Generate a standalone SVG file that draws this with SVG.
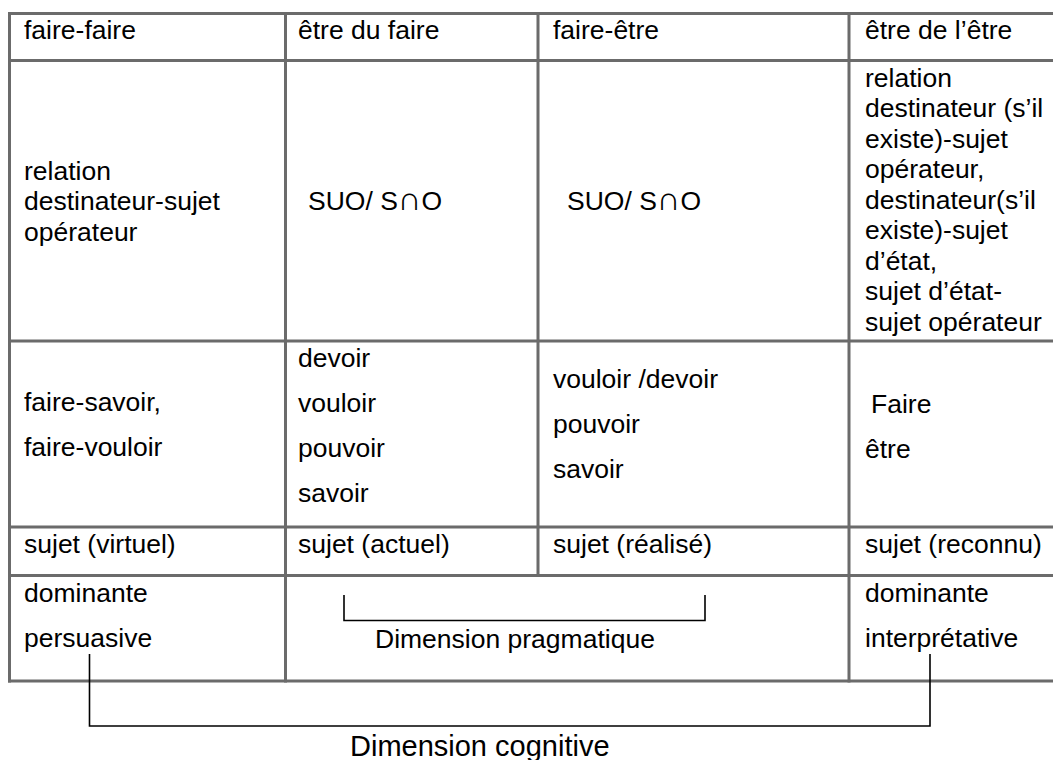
<svg xmlns="http://www.w3.org/2000/svg" width="1053" height="760" viewBox="0 0 1053 760">
<style>
.g{stroke:#6b6b6b;stroke-width:3;fill:none}
.b{stroke:#000;stroke-width:1.6;fill:none}
text{font-family:"Liberation Sans",Arial,sans-serif;font-size:26.5px;fill:#000}
.big{font-size:29px}
.cap{font-size:33px}
</style>
<rect width="1053" height="760" fill="#fff"/>
<g id="grid">
<line class="g" x1="8" y1="13.5" x2="1053" y2="13.5"/>
<line class="g" x1="8" y1="60.5" x2="1053" y2="60.5"/>
<line class="g" x1="8" y1="341" x2="1053" y2="341"/>
<line class="g" x1="8" y1="527" x2="1053" y2="527"/>
<line class="g" x1="8" y1="575.5" x2="1053" y2="575.5"/>
<line class="g" x1="8" y1="681" x2="1053" y2="681"/>
<line class="g" x1="9.5" y1="12" x2="9.5" y2="682.5"/>
<line class="g" x1="285.5" y1="12" x2="285.5" y2="682.5"/>
<line class="g" x1="538" y1="12" x2="538" y2="577"/>
<line class="g" x1="849" y1="12" x2="849" y2="682.5"/>
</g>
<g id="h1"><text x="24" y="39">faire-faire</text></g>
<g id="h2"><text x="298" y="39">être du faire</text></g>
<g id="h3"><text x="553" y="39">faire-être</text></g>
<g id="h4"><text x="865" y="39">être de l’être</text></g>
<g id="r2c1"><text x="24" y="179.5">relation</text><text x="24" y="210">destinateur-sujet</text><text x="24" y="240.5">opérateur</text></g>
<g id="r2c2"><text x="308" y="210">SUO/ S<tspan class="cap">∩</tspan>O</text></g>
<g id="r2c3"><text x="567" y="210">SUO/ S<tspan class="cap">∩</tspan>O</text></g>
<g id="r2c4">
<text x="865" y="86.5">relation</text>
<text x="865" y="117">destinateur (s’il</text>
<text x="865" y="147.5">existe)-sujet</text>
<text x="865" y="178">opérateur,</text>
<text x="865" y="208.5">destinateur(s’il</text>
<text x="865" y="239">existe)-sujet</text>
<text x="865" y="269.5">d’état,</text>
<text x="865" y="300">sujet d’état-</text>
<text x="865" y="330.5">sujet opérateur</text>
</g>
<g id="r3c1"><text x="24" y="411">faire-savoir,</text><text x="24" y="456">faire-vouloir</text></g>
<g id="r3c2"><text x="298" y="367">devoir</text><text x="298" y="412">vouloir</text><text x="298" y="457">pouvoir</text><text x="298" y="502">savoir</text></g>
<g id="r3c3"><text x="553" y="388">vouloir /devoir</text><text x="553" y="433">pouvoir</text><text x="553" y="478">savoir</text></g>
<g id="r3c4"><text x="871" y="413">Faire</text><text x="865" y="458">être</text></g>
<g id="r4c1"><text x="24" y="553">sujet (virtuel)</text></g>
<g id="r4c2"><text x="298" y="553">sujet (actuel)</text></g>
<g id="r4c3"><text x="553" y="553">sujet (réalisé)</text></g>
<g id="r4c4"><text x="865" y="553">sujet (reconnu)</text></g>
<g id="r5c1"><text x="24" y="601.5">dominante</text><text x="24" y="647">persuasive</text></g>
<g id="r5c4"><text x="865" y="601.5">dominante</text><text x="865" y="647">interprétative</text></g>
<g id="pragmatique"><text x="375" y="648">Dimension pragmatique</text></g>
<g id="cognitive"><text class="big" x="350" y="756">Dimension cognitive</text></g>
<g id="connectors">
<polyline class="b" points="344,595 344,620.5 705,620.5 705,595"/>
<polyline class="b" points="89.5,654 89.5,726 930,726 930,654"/>
</g>
</svg>
